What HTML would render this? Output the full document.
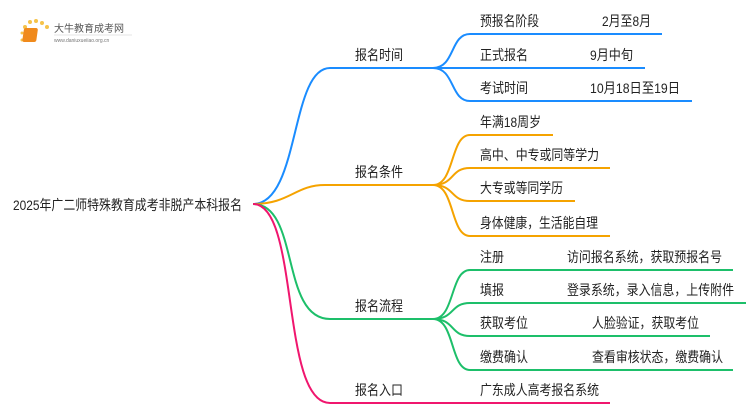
<!DOCTYPE html>
<html><head><meta charset="utf-8"><style>
body{margin:0;background:#fff}
svg text{font-family:"Liberation Sans","Noto Sans CJK SC",sans-serif;font-size:14px;fill:#222}
</style></head><body>
<svg width="750" height="410" viewBox="0 0 750 410" xmlns="http://www.w3.org/2000/svg">
<g>
<circle cx="25" cy="27" r="2" fill="#f6c34a"/><circle cx="30" cy="22" r="2" fill="#f6c34a"/><circle cx="36" cy="21" r="2" fill="#f6c34a"/><circle cx="42" cy="23" r="2" fill="#f6c34a"/><circle cx="47" cy="27" r="2" fill="#f6c34a"/><circle cx="22" cy="33" r="1.5" fill="#f6c34a"/><circle cx="22" cy="40" r="1.5" fill="#f6c34a"/>
<rect x="28" y="28" width="14" height="14" rx="2" fill="#f08a1c" transform="skewX(-8)"/>
<text x="54" y="32" style="font-size:10px;fill:#555">大牛教育成考网</text>
<line x1="54" y1="35" x2="132" y2="35" stroke="#ddd" stroke-width="0.7"/>
<text x="54" y="42" style="font-size:5px;fill:#777">www.daniuxueiiao.org.cn</text>
</g>
<text x="13" y="210" textLength="229" lengthAdjust="spacingAndGlyphs">2025年广二师特殊教育成考非脱产本科报名</text>
<g fill="none" stroke-width="2">
<path d="M253 204 C300 204 290 68 330 68 L433 68" stroke="#1a8cff"/>
<path d="M433 68 C455 68 450 34 470 34 L662 34 M433 68 L645 68 M433 68 C455 68 450 101 470 101 L692 101" stroke="#1a8cff"/>
<path d="M253 204 C290 204 295 185 325 185 L433 185" stroke="#f5a300"/>
<path d="M433 185 C455 185 450 135 470 135 L553 135 M433 185 C455 185 450 168 470 168 L610 168 M433 185 C455 185 450 201 470 201 L575 201 M433 185 C455 185 450 236 470 236 L610 236" stroke="#f5a300"/>
<path d="M253 204 C300 204 280 319 330 319 L433 319" stroke="#1dbf6a"/>
<path d="M433 319 C455 319 450 270 470 270 L733 270 M433 319 C455 319 450 303 470 303 L746 303 M433 319 C455 319 450 336 470 336 L710 336 M433 319 C455 319 450 370 470 370 L733 370" stroke="#1dbf6a"/>
<path d="M253 204 C300 204 280 403 330 403 L610 403" stroke="#f0166e"/>
</g>
<g style="font-size:14px">
<text x="355" y="60" textLength="48" lengthAdjust="spacingAndGlyphs">报名时间</text>
<text x="355" y="177" textLength="48" lengthAdjust="spacingAndGlyphs">报名条件</text>
<text x="355" y="311" textLength="48" lengthAdjust="spacingAndGlyphs">报名流程</text>
<text x="355" y="395" textLength="48" lengthAdjust="spacingAndGlyphs">报名入口</text>
<text x="480" y="26" textLength="59" lengthAdjust="spacingAndGlyphs">预报名阶段</text><text x="602" y="26" textLength="49" lengthAdjust="spacingAndGlyphs">2月至8月</text>
<text x="480" y="60" textLength="48" lengthAdjust="spacingAndGlyphs">正式报名</text><text x="590" y="60" textLength="43" lengthAdjust="spacingAndGlyphs">9月中旬</text>
<text x="480" y="93" textLength="48" lengthAdjust="spacingAndGlyphs">考试时间</text><text x="590" y="93" textLength="90" lengthAdjust="spacingAndGlyphs">10月18日至19日</text>
<text x="480" y="127" textLength="61" lengthAdjust="spacingAndGlyphs">年满18周岁</text>
<text x="480" y="160" textLength="119" lengthAdjust="spacingAndGlyphs">高中、中专或同等学力</text>
<text x="480" y="193" textLength="83" lengthAdjust="spacingAndGlyphs">大专或等同学历</text>
<text x="480" y="228" textLength="118" lengthAdjust="spacingAndGlyphs">身体健康，生活能自理</text>
<text x="480" y="262" textLength="24" lengthAdjust="spacingAndGlyphs">注册</text><text x="567" y="262" textLength="155" lengthAdjust="spacingAndGlyphs">访问报名系统，获取预报名号</text>
<text x="480" y="295" textLength="24" lengthAdjust="spacingAndGlyphs">填报</text><text x="567" y="295" textLength="167" lengthAdjust="spacingAndGlyphs">登录系统，录入信息，上传附件</text>
<text x="480" y="328" textLength="48" lengthAdjust="spacingAndGlyphs">获取考位</text><text x="592" y="328" textLength="107" lengthAdjust="spacingAndGlyphs">人脸验证，获取考位</text>
<text x="480" y="362" textLength="48" lengthAdjust="spacingAndGlyphs">缴费确认</text><text x="592" y="362" textLength="131" lengthAdjust="spacingAndGlyphs">查看审核状态，缴费确认</text>
<text x="480" y="395" textLength="119" lengthAdjust="spacingAndGlyphs">广东成人高考报名系统</text>
</g>
</svg>
</body></html>
